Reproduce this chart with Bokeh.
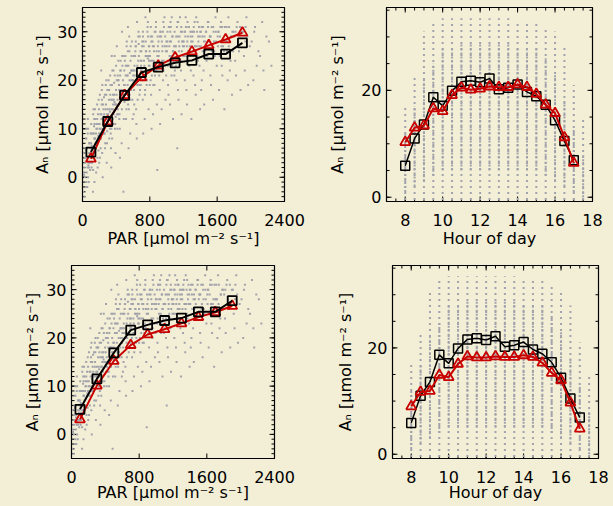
import math
import numpy as np
from bokeh.plotting import figure
from bokeh.layouts import row, column
from bokeh.models import Range1d, SingleIntervalTicker
from bokeh.embed import file_html
from bokeh.resources import INLINE

# ---------------- data ----------------
# observed leaf-level points (PAR vs An), shared by both PAR panels
obs_par = [
    12, 25, 38, 50, 63, 75, 88, 95, 18, 44, 57, 70, 82, 30, 91, 8, 66, 40, 78, 53,
    105, 118, 130, 142, 155, 167, 180, 192, 110, 125, 137, 150, 162, 175, 188, 198, 114, 146, 171, 133,
    204, 216, 228, 240, 252, 264, 276, 288, 298, 210, 222, 234, 246, 258, 270, 282, 294, 238, 262,
    305, 318, 330, 342, 355, 367, 380, 392, 310, 322, 335, 347, 360, 372, 385, 398, 327, 364,
    403, 415, 428, 440, 452, 465, 477, 490, 408, 420, 433, 445, 458, 470, 483, 496, 486,
    505, 517, 530, 542, 555, 567, 580, 592, 510, 522, 535, 547, 560, 572, 585, 598, 540,
    603, 615, 628, 640, 652, 665, 677, 690, 608, 620, 633, 645, 658, 670, 683, 696, 648,
    704, 716, 727, 739, 750, 762, 773, 785, 796, 710, 721, 733, 744, 756, 767, 779, 790, 748,
    804, 815, 827, 838, 850, 861, 873, 884, 896, 809, 821, 832, 844, 855, 867, 878, 890, 889,
    905, 917, 928, 940, 951, 963, 974, 986, 997, 911, 922, 934, 945, 957, 968, 980, 991,
    1004, 1016, 1028, 1040, 1052, 1064, 1076, 1088, 1098, 1010, 1022, 1034, 1046, 1058, 1070, 1082,
    1126, 1105, 1117, 1129, 1141, 1153, 1165, 1177, 1189, 1110, 1122, 1134, 1146, 1158, 1170, 1182, 1194,
    1203, 1216, 1229, 1242, 1255, 1268, 1281, 1294, 1209, 1222, 1235, 1248, 1261, 1274, 1287,
    1306, 1319, 1332, 1345, 1358, 1371, 1384, 1397, 1312, 1325, 1338, 1351, 1364, 1377, 1390,
    1404, 1418, 1432, 1446, 1460, 1474, 1488, 1410, 1424, 1438, 1452, 1466, 1480,
    1505, 1520, 1535, 1550, 1565, 1580, 1595, 1512, 1527, 1542, 1557, 1572,
    1606, 1622, 1638, 1654, 1670, 1686, 1614, 1630, 1646, 1662, 1678,
    1708, 1725, 1742, 1759, 1776, 1793, 1716, 1733, 1750, 1767,
    1805, 1823, 1841, 1859, 1877, 1895, 1814, 1832, 1850,
    1908, 1928, 1948, 1968, 1988, 1918, 1938, 1958,
    2010, 2030, 2050, 2070, 2090, 2040,
    2110, 2135, 2160, 2185, 2150,
    2215, 2245,
    22, 35, 47, 58, 69, 81, 93, 15, 41, 62, 86, 29,
    102, 112, 121, 128, 139, 148, 158, 165, 177, 184, 195, 108, 143, 169, 190, 126,
    202, 213, 219, 231, 243, 249, 261, 268, 279, 286, 296, 207, 226, 255, 273, 291,
    302, 314, 325, 333, 345, 352, 363, 370, 383, 389, 396, 316, 338, 357, 376, 394,
    405, 412, 424, 431, 443, 449, 461, 468, 480, 487, 494, 418, 437, 455, 474, 499,
    502, 514, 520, 533, 539, 551, 558, 570, 577, 589, 595, 526, 545, 563, 583, 599,
    606, 612, 625, 631, 643, 655, 661, 673, 680, 692, 699, 618, 637, 667, 686,
    702, 713, 724, 736, 742, 753, 765, 771, 782, 793, 799, 719, 747, 776, 788,
    802, 818, 824, 836, 847, 858, 869, 881, 893, 812, 841, 864, 907, 919, 931, 943, 955, 966, 978, 994,
    1007, 1019, 1031, 1043, 1055, 1067, 1079, 1091, 1013, 1049, 1108, 1120, 1132, 1144, 1156, 1168, 1180, 1192,
    1206, 1219, 1232, 1245, 1258, 1271, 1284, 1297, 1309, 1322, 1335, 1348, 1361, 1374, 1387, 1399,
    1407, 1428, 1449, 1470, 1491, 1515, 1538, 1561, 1584, 1609, 1633, 1657, 1681, 1699,
    1712, 1738, 1764, 1789, 1818, 1846, 1872, 1935,
    33, 46, 55, 67, 79, 97, 104, 116, 127, 136, 149, 60, 84, 120, 141,
    153, 161, 174, 186, 196, 206, 215, 224, 236, 245, 254, 266, 274, 284, 293, 181, 229, 259,
    308, 320, 329, 340, 350, 359, 368, 378, 387, 399, 407, 417, 426, 436, 447, 343, 381, 422,
    454, 463, 472, 481, 492, 503, 513, 524, 536, 546, 557, 566, 578, 587, 597, 609, 621, 634,
    651, 663, 676, 688, 697, 708, 718, 731, 741, 752, 764, 777, 787, 798, 811, 826, 849, 872,
    903, 925, 948, 960, 982, 1001, 1025, 1037, 1061, 1073, 1094, 1113, 1137, 1150, 1174, 1186,
    1212, 1226, 1239, 1252, 1265, 1278, 1291, 1300,
    1316, 1342, 1367, 1393, 1415, 1443, 1469, 1496, 1523, 1553, 1588, 1617, 1650, 1690, 1720, 1781,
]
obs_an = [
    5, -4, 8, 1, 12, -1, 3, 6, 0.5, 10, -2, 2.5, 7, 4, 1.5, -3, 0, 5.5, 2, 3.5,
    9, 4, 14, -1, 7, 11, 2, 16, 6.5, -3, 10.5, 5, 1, 12, 8.5, 3, 4.5, 8, 10, 6,
    11, 6, 15, 0, 12.5, 9, 19, 3, 14, 8, 22, 5, 11.5, 13, 7, 17, 9.5, 10, 12,
    13, 8, 17, 2, 22, 11, 15.5, 5, 20, 12, 9, 25, 14, 16, 10, 18, 13.5, 15,
    15, 10, 20, 13, 24, 7, 17, 12, 27, 14, 19, 4, 16, 30, 18, 22, -3,
    18, 12, 23, 15, 29, 9, 20, 16, 25, 14, 21, 6, 17, 27, 22, 19, 31,
    21, 15, 26, 11, 19, 30, 17, 24, 13, 22, 28, 8, 20, 25, 18, 23, 32,
    22, 16, 27, 12, 25, 19, 31, 14, 23, 28, 9, 21, 18, 26, 20, 29, 24, 33,
    24, 17, 29, 13, 26, 21, 32, 15, 27, 20, 10, 28, 23, 19, 30, 22, 25, 1.5,
    25, 18, 30, 14, 27, 22, 33, 16, 28, 21, 11, 29, 24, 20, 31, 23, 26,
    26, 19, 31, 15, 28, 23, 12, 27, 22, 30, 17, 25, 32, 21, 29, 24,
    6, 27, 20, 32, 16, 29, 24, 13, 28, 23, 31, 18, 26, 33, 22, 30, 25,
    28, 20, 31, 15, 26, 23, 30, 12, 25, 29, 18, 32, 24, 27, 22,
    29, 21, 32, 17, 27, 24, 31, 14, 26, 30, 19, 33, 25, 28, 23,
    27, 20, 31, 15, 28, 24, 32, 18, 29, 22, 26, 30, 25,
    28, 21, 31, 16, 26, 33, 23, 29, 19, 27, 30, 25,
    29, 18, 31, 23, 27, 14, 30, 25, 32, 21, 28,
    28, 20, 31, 24, 17, 30, 26, 33, 22, 29,
    29, 21, 32, 26, 18, 30, 24, 31, 28,
    30, 22, 33, 19, 27, 25, 31, 29,
    28, 20, 31, 23, 26, 30,
    25, 32, 18, 29, 22,
    28, 23,
    2, 6, -1, 4, 3, 7, 5, 1, -2, 9, 4.5, 0,
    7, 3, 9, 5, 12, 8, 6, 10, 4, 13, 9, 2, 11, 7.5, 5.5, 1.5,
    10, 13, 8, 16, 9, 14, 11, 6, 15, 12, 18, 4, 12, 16.5, 10.5, 7,
    12, 16, 10, 19, 14, 8, 17, 13, 21, 11, 15, 18, 6, 16, 19.5, 12.5,
    17, 13, 20, 15, 10, 22, 18, 14, 16, 25, 19, 21, 12, 17.5, 23, 15.5,
    19, 23, 16, 21, 26, 14, 20, 24, 18, 22, 12, 28, 17, 21.5, 25, 20,
    22, 18, 25, 27, 20, 16, 24, 21, 29, 19, 26, 23, 14, 27.5, 22.5,
    24, 20, 28, 23, 17, 26, 22, 30, 25, 27, 19, 29, 21, 24.5, 27,
    25, 28, 21, 27, 24, 30, 22, 26, 29, 31, 19, 23, 26, 29, 23, 28, 30, 24, 27, 21,
    28, 24, 27, 30, 25, 29, 26, 21, 23, 31, 27, 24, 29, 28, 25, 30, 26, 27,
    27, 30, 25, 28, 31, 26, 29, 24, 28, 31, 27, 26, 30, 29, 27, 30,
    30, 26, 29, 27, 31, 29, 26, 28, 30, 27, 29, 31, 26, 28,
    31, 27, 29, 26, 30, 27, 31, 28,
    3, 8, 6, 10, 5, 9, 11, 6, 13, 9, 14, 2, 7, 4, 8,
    12, 9, 15, 11, 14, 17, 10, 13, 19, 15, 12, 17, 14, 20, 13, 8, 18, 9,
    18, 14, 21, 16, 19, 12, 22, 17, 15, 23, 20, 16, 24, 18, 21, 10, 25, 13,
    22, 18, 25, 20, 17, 24, 21, 27, 19, 23, 26, 16, 22, 28, 20, 25, 21, 27,
    23, 29, 19, 26, 22, 27, 30, 24, 21, 28, 25, 32, 23, 26, 29, 24, 27, 31,
    28, 30, 26, 32, 29, 27, 31, 28, 33, 26, 30, 29, 32, 27, 31, 28,
    30, 33, 27, 29, 31, 26, 28, 30,
    30, 27, 32, 29, 31, 28, 30, 32, 29, 31, 28, 30, 27, 31, 28, 30,
]

# binned means vs PAR
par_bins = [100, 300, 500, 700, 900, 1100, 1300, 1500, 1700, 1900]
an_par_obs = [5.2, 11.5, 16.9, 21.6, 22.7, 23.6, 24.1, 25.4, 25.4, 27.7]
an_par_mod_top = [3.8, 11.5, 16.9, 20.6, 23.0, 24.7, 25.9, 27.2, 28.4, 29.8]
an_par_mod_bot = [3.1, 10.1, 15.2, 18.5, 20.7, 21.8, 23.0, 24.3, 25.3, 26.6]

# half-hourly observations: extent of each column of points (full and dense core)
obs_hours = [8.0, 8.5, 9.0, 9.5, 10.0, 10.5, 11.0, 11.5, 12.0, 12.5, 13.0, 13.5,
             14.0, 14.5, 15.0, 15.5, 16.0, 16.5, 17.0, 17.5]
obs_hour_low = [-0.5, -0.5, -0.5, -0.5, -0.5, -0.5, -0.5, -0.5, -0.5, -0.5, -0.5, -0.5,
                -0.5, -0.5, -0.5, -0.5, -0.5, -0.5, -0.5, -0.5]
obs_hour_high = [17, 23, 31, 33, 33.5, 33.5, 33.5, 33.5, 33.5, 33.5, 33.5, 33.5,
                 33, 33, 33, 32, 31, 28, 21, 15]
obs_core_low = [1, 2, 3, 4, 5, 5, 5, 5, 5, 5, 5, 5, 5, 5, 5, 4, 3, 2, 1, 0]
obs_core_high = [12, 17, 22, 25, 28, 28, 29, 29, 29, 29, 29, 29, 28, 28, 28, 26, 23, 18, 13, 8]

# binned means vs hour of day
hours = [8.0, 8.5, 9.0, 9.5, 10.0, 10.5, 11.0, 11.5, 12.0, 12.5, 13.0, 13.5,
         14.0, 14.5, 15.0, 15.5, 16.0, 16.5, 17.0]
an_hour_obs = [5.9, 11.0, 13.6, 18.7, 17.1, 19.9, 21.6, 21.8, 21.5, 22.2, 20.2, 20.5,
               21.1, 19.7, 18.9, 17.3, 14.4, 10.5, 6.9]
an_hour_mod_top = [10.3, 13.0, 13.4, 16.6, 16.1, 19.1, 20.5, 20.1, 20.3, 20.7, 20.6, 20.6,
                   21.1, 20.6, 19.3, 17.3, 15.7, 11.2, 6.4]
an_hour_mod_bot = [9.0, 11.7, 11.9, 14.9, 14.5, 17.0, 18.4, 18.2, 18.2, 18.4, 18.3, 18.3,
                   18.6, 18.3, 17.2, 15.3, 13.9, 9.7, 4.8]

# ---------------- style ----------------
BG = "#F3EFD6"
GRAY = "#A2A2AC"
RED = "#C80000"
FONT = "DejaVu Sans"
YLABEL = "Aₙ [μmol m⁻² s⁻¹]"
PARLABEL = "PAR [μmol m⁻² s⁻¹]"
HOURLABEL = "Hour of day"


def tick_positions(lo, hi, step):
    start = math.ceil(lo / step - 1e-9) * step
    return list(np.arange(start, hi + 1e-9, step))


def inward_ticks(p, xr, yr, xint, xminor, yint, yminor):
    """IDL-style tick marks pointing into the frame on all four sides."""
    for step, size in ((xint / (xminor + 1) if xminor else None, 6), (xint, 10)):
        if step is None:
            continue
        t = tick_positions(xr[0], xr[1], step)
        for yy in yr:
            p.scatter(t, [yy] * len(t), marker="dash", angle=math.pi / 2, size=size,
                      line_color="black", line_width=1)
    for step, size in ((yint / (yminor + 1) if yminor else None, 6), (yint, 10)):
        if step is None:
            continue
        t = tick_positions(yr[0], yr[1], step)
        for xx in xr:
            p.scatter([xx] * len(t), t, marker="dash", size=size,
                      line_color="black", line_width=1)


def make_panel(w, h, bl, br, bt, bb, xr, yr, xint, xminor, yint, yminor,
               xlabel, xstand, xlstand, ylstand):
    p = figure(width=w, height=h, x_range=Range1d(*xr), y_range=Range1d(*yr),
               output_backend="svg", toolbar_location=None,
               min_border_left=bl, min_border_right=br,
               min_border_top=bt, min_border_bottom=bb,
               background_fill_color=BG, border_fill_color=BG,
               outline_line_color="black", outline_line_width=1.2)
    p.xgrid.visible = False
    p.ygrid.visible = False
    p.xaxis.ticker = SingleIntervalTicker(interval=xint, num_minor_ticks=xminor)
    p.yaxis.ticker = SingleIntervalTicker(interval=yint, num_minor_ticks=yminor)
    for ax in (p.xaxis[0], p.yaxis[0]):
        ax.major_tick_out = 0
        ax.major_tick_in = 0
        ax.minor_tick_out = 0
        ax.minor_tick_in = 0
        ax.axis_line_color = "black"
        ax.major_label_text_font = FONT
        ax.major_label_text_font_size = "16px"
        ax.major_label_text_color = "black"
        ax.axis_label_text_font = FONT
        ax.axis_label_text_font_size = "16px"
        ax.axis_label_text_font_style = "normal"
        ax.axis_label_text_color = "black"
    p.xaxis.axis_label = xlabel
    p.yaxis.axis_label = YLABEL
    p.xaxis.major_label_standoff = xstand
    p.xaxis.axis_label_standoff = xlstand
    p.yaxis.major_label_standoff = 5
    p.yaxis.axis_label_standoff = ylstand
    inward_ticks(p, xr, yr, xint, xminor, yint, yminor)
    return p


def par_panel(w, h, bl, br, bt, bb, xstand, xlstand, ylstand, model):
    p = make_panel(w, h, bl, br, bt, bb, (0, 2400), (-5, 35), 800, 0, 10, 9,
                   PARLABEL, xstand, xlstand, ylstand)
    p.rect(obs_par, obs_an, width=2, height=2, width_units="screen",
           height_units="screen", color=GRAY, line_width=0)
    p.line(par_bins, model, color=RED, line_width=2)
    p.scatter(par_bins, model, marker="triangle", size=10, line_color=RED,
              fill_alpha=0, line_width=1.8)
    p.line(par_bins, an_par_obs, color="black", line_width=2)
    p.scatter(par_bins, an_par_obs, marker="square", size=9, line_color="black",
              fill_alpha=0, line_width=1.8)
    return p


def hour_panel(w, h, bl, br, bt, bb, xstand, xlstand, ylstand, model):
    p = make_panel(w, h, bl, br, bt, bb, (7, 18), (-0.8, 35.5), 2, 3, 20, 3,
                   HOURLABEL, xstand, xlstand, ylstand)
    p.segment(obs_hours, obs_hour_low, obs_hours, obs_hour_high, color=GRAY,
              line_width=2, line_dash="2 4")
    p.segment(obs_hours, obs_core_low, obs_hours, obs_core_high, color=GRAY,
              line_width=2, line_dash="2 2")
    p.line(hours, an_hour_obs, color="black", line_width=1.5)
    p.scatter(hours, an_hour_obs, marker="square", size=9, line_color="black",
              fill_alpha=0, line_width=1.5)
    p.line(hours, model, color=RED, line_width=2)
    p.scatter(hours, model, marker="triangle", size=10, line_color=RED,
              fill_alpha=0, line_width=1.8)
    return p


p1 = par_panel(306, 253, 82, 22, 7, 52, 12, 0, 2, an_par_mod_top)
p2 = hour_panel(307, 253, 80, 21, 7, 52, 12, 0, 11, an_hour_mod_top)
p3 = par_panel(306, 253, 71, 32, 12, 48, 12, -3, 1, an_par_mod_bot)
p4 = hour_panel(307, 253, 86, 15, 12, 48, 12, -3, 9, an_hour_mod_bot)

layout = column(row(p1, p2, spacing=0), row(p3, p4, spacing=0), spacing=0)
layout.styles = {"background-color": BG}

html = file_html(layout, INLINE)
open("out.html", "w").write(html)
